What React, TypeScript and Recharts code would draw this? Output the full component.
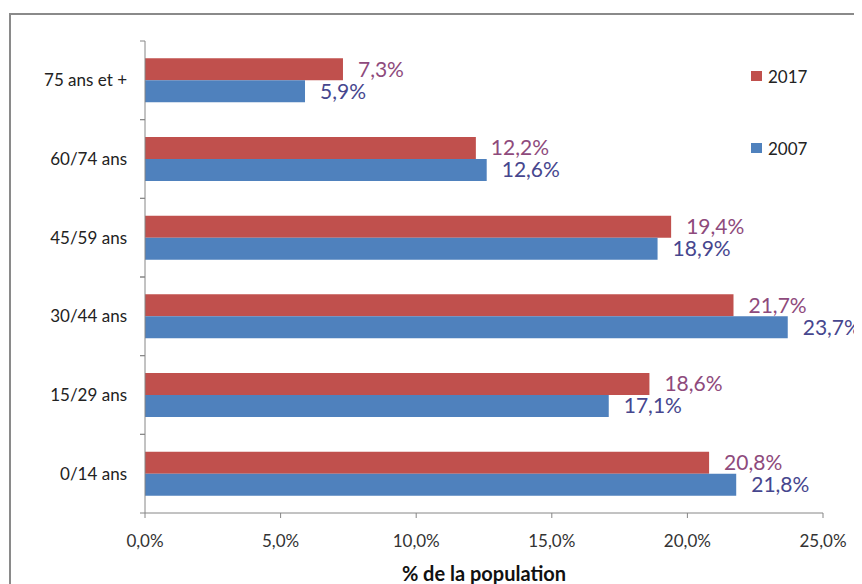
import React from 'react';
import { BarChart, Bar, XAxis, YAxis, LabelList, Label } from 'recharts';

const categories = ['75 ans et +', '60/74 ans', '45/59 ans', '30/44 ans', '15/29 ans', '0/14 ans'];
const values2017 = [7.3, 12.2, 19.4, 21.7, 18.6, 20.8];
const values2007 = [5.9, 12.6, 18.9, 23.7, 17.1, 21.8];
const xTicks = [0, 5, 10, 15, 20, 25];
const legendItems = [
  { name: '2017', color: '#c0504d' },
  { name: '2007', color: '#4f81bd' },
];

const RED = '#c0504d';
const BLUE = '#4f81bd';
const RED_LABEL = '#8e4a7c';
const BLUE_LABEL = '#46468e';
const FONT = 'Lato, "Open Sans", sans-serif';

const data = categories.map((c, i) => ({ name: c, y2017: values2017[i], y2007: values2007[i] }));

const pct = (v: number) => v.toFixed(1).replace('.', ',') + '%';

const YTick = (props: any) => {
  const { x, y, payload } = props;
  const half = payload && payload.offset ? payload.offset : 39;
  return (
    <g>
      <line x1={x - 5} x2={x} y1={y - half} y2={y - half} stroke="#868686" />
      <line x1={x - 5} x2={x} y1={y + half} y2={y + half} stroke="#868686" />
      <text x={x - 18} y={y} dy={6} textAnchor="end" fill="#222" fontSize={17} fontFamily={FONT}>
        {payload.value}
      </text>
    </g>
  );
};

export default function App() {
  return (
    <div style={{ position: 'relative', width: 854, height: 576, overflow: 'hidden', background: '#fff' }}>
      <div
        style={{
          position: 'absolute',
          left: 1,
          top: 5,
          width: 950,
          height: 700,
          border: '2px solid #8a8a8a',
          boxSizing: 'border-box',
        }}
      />
      <div style={{ position: 'absolute', left: 743, top: 58, fontFamily: FONT, fontSize: 17, color: '#222' }}>
        {legendItems.map((it, i) => (
          <div key={it.name} style={{ display: 'flex', alignItems: 'center', height: 20, marginBottom: i === 0 ? 52 : 0 }}>
            <span style={{ width: 11, height: 10, background: it.color, display: 'inline-block', marginRight: 6 }} />
            <span>{it.name}</span>
          </div>
        ))}
      </div>
      <div style={{ position: 'absolute', left: 0, top: 0 }}>
        <BarChart
          width={854}
          height={576}
          data={data}
          layout="vertical"
          margin={{ top: 33, right: 39, bottom: 3, left: 0 }}
          barCategoryGap="22%"
          barGap={0}
        >
          <XAxis
            type="number"
            domain={[0, 25]}
            ticks={xTicks}
            tickFormatter={pct}
            axisLine={{ stroke: '#868686' }}
            tickLine={{ stroke: '#868686' }}
            tickSize={5}
            tickMargin={17}
            height={68}
            tick={{ fill: '#333', fontSize: 17, fontFamily: FONT }}
          >
            <Label
              value="% de la population"
              position="insideBottom"
              offset={0}
              style={{ fontFamily: FONT, fontSize: 20, fontWeight: 700, fill: '#111' }}
            />
          </XAxis>
          <YAxis
            type="category"
            dataKey="name"
            width={137}
            axisLine={{ stroke: '#868686' }}
            tickLine={false}
            tickSize={0}
            tickMargin={0}
            tick={<YTick />}
            interval={0}
          />
          <Bar dataKey="y2017" name="2017" fill={RED} isAnimationActive={false}>
            <LabelList
              dataKey="y2017"
              position="right"
              offset={15}
              formatter={(v: any) => pct(Number(v))}
              style={{ fill: RED_LABEL, fontSize: 21, fontFamily: FONT }}
            />
          </Bar>
          <Bar dataKey="y2007" name="2007" fill={BLUE} isAnimationActive={false}>
            <LabelList
              dataKey="y2007"
              position="right"
              offset={15}
              formatter={(v: any) => pct(Number(v))}
              style={{ fill: BLUE_LABEL, fontSize: 21, fontFamily: FONT }}
            />
          </Bar>
        </BarChart>
      </div>
    </div>
  );
}
